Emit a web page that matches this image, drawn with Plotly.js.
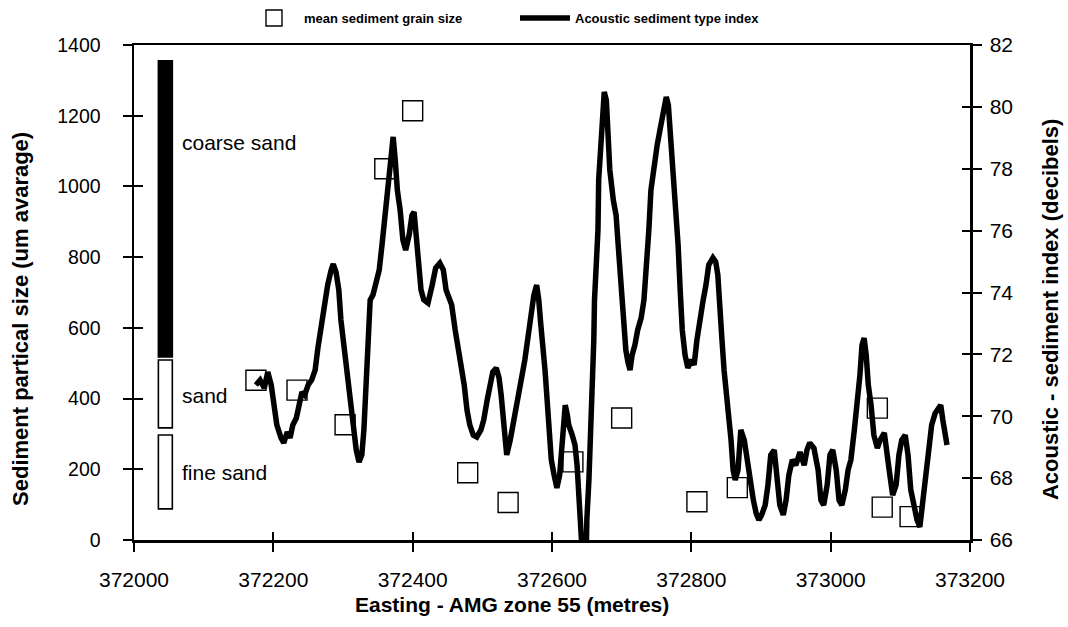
<!DOCTYPE html>
<html>
<head>
<meta charset="utf-8">
<script src="https://cdn.plot.ly/plotly-3.0.1.min.js"></script>
<style>html,body{margin:0;padding:0;background:#fff;}#chart{width:1068px;height:627px;}</style>
</head>
<body>
<div id="chart"></div>
<script>
// ---- Data ----
const xTicks = [372000, 372200, 372400, 372600, 372800, 373000, 373200];
const leftTicks = [0, 200, 400, 600, 800, 1000, 1200, 1400];
const rightTicks = [66, 68, 70, 72, 74, 76, 78, 80, 82];

// Mean sediment grain size samples (um) vs easting
const grainEasting = [372175, 372234, 372303, 372360, 372400, 372479, 372537, 372630, 372700, 372808, 372866, 373067, 373074, 373114];
const grainSize    = [452, 424, 326, 1050, 1214, 190, 106, 221, 345, 108, 148, 373, 93, 66];

// Acoustic sediment type index (dB) vs easting
const acousticEasting = [
 372175,372181,372187,372192,372197,372201,372205,372211,372215,372220,
 372224,372228,372233,372237,372241,372245,372250,372255,372260,372264,
 372268,372273,372278,372283,372286,372290,372294,372297,372301,372306,
 372310,372314,372319,372323,372327,372330,372333,372336,372339,372343,
 372347,372352,372356,372360,372363,372366,372369,372372,372375,372378,
 372382,372386,372390,372395,372399,372402,372405,372408,372412,372416,
 372422,372428,372433,372439,372444,372448,372452,372456,372461,372465,
 372469,372474,372478,372482,372487,372492,372498,372502,372507,372511,
 372515,372520,372524,372527,372530,372533,372535,372540,372544,372548,
 372553,372557,372561,372566,372570,372574,372578,372581,372584,372587,
 372590,372593,372596,372599,372603,372607,372611,372614,372617,372619,
 372622,372624,372629,372633,372636,372639,372642,372644,372649,372650,
 372653,372656,372659,372660,372661,372663,372666,372667,372670,372673,
 372675,372678,372680,372683,372688,372692,372695,372698,372700,372703,
 372706,372709,372712,372715,372719,372723,372728,372732,372736,372739,
 372742,372746,372751,372755,372759,372764,372767,372769,372772,372775,
 372778,372781,372784,372787,372791,372795,372800,372804,372808,372812,
 372817,372821,372825,372831,372835,372838,372841,372844,372847,372850,
 372854,372857,372860,372863,372867,372871,372876,372880,372884,372889,
 372893,372897,372901,372906,372910,372914,372919,372923,372927,372932,
 372936,372940,372945,372950,372956,372962,372966,372970,372976,372982,
 372986,372990,372995,372999,373003,373008,373012,373016,373021,373025,
 373029,373034,373038,373042,373045,373048,373051,373054,373058,373062,
 373067,373071,373077,373081,373085,373089,373094,373098,373102,373107,
 373111,373115,373120,373124,373128,373133,373137,373141,373145,373150,
 373154,373158,373161,373164,373167
];
const acousticIndex = [
 71.01,71.17,70.91,71.43,71.01,70.36,69.72,69.30,69.14,69.49,
 69.30,69.72,69.94,70.36,70.78,70.69,71.01,71.17,71.49,72.21,
 72.79,73.76,74.24,74.73,74.92,74.66,74.08,73.11,72.30,71.49,
 70.53,69.56,68.91,68.52,68.75,69.56,70.85,72.79,73.76,73.92,
 74.24,74.73,75.54,76.50,77.15,77.96,78.61,79.03,78.28,77.31,
 76.67,75.70,75.37,75.86,76.50,76.60,75.86,74.89,74.08,73.76,
 73.66,74.24,74.79,74.95,74.73,74.08,73.76,73.60,72.79,72.30,
 71.66,71.01,70.20,69.72,69.39,69.33,69.56,69.88,70.53,71.01,
 71.43,71.56,71.24,70.69,69.88,69.07,68.75,69.23,69.72,70.04,
 70.69,71.33,71.82,72.63,73.43,73.92,74.24,73.76,72.95,72.30,
 71.49,70.53,69.39,68.59,68.10,67.68,68.10,68.91,69.88,70.36,
 70.04,69.72,69.39,69.07,68.42,67.29,66.00,65.35,65.35,66.65,
 67.94,69.88,71.01,72.46,73.76,74.73,76.02,77.64,78.93,79.90,
 80.48,80.22,79.25,77.96,76.99,76.50,75.54,74.57,73.76,72.79,
 72.14,71.75,71.49,71.98,72.30,72.79,73.18,73.76,74.89,76.02,
 77.31,78.12,78.77,79.25,79.83,80.32,80.06,79.41,78.61,77.64,
 76.67,75.54,74.08,72.79,71.98,71.56,71.82,71.66,72.46,73.11,
 73.76,74.24,74.89,75.12,74.99,74.57,73.76,72.46,71.49,70.85,
 70.20,69.23,68.26,67.94,68.26,69.56,69.23,68.59,67.94,67.29,
 66.87,66.65,66.81,67.13,67.78,68.75,68.91,68.10,67.13,66.81,
 67.29,68.10,68.59,68.42,68.84,68.42,68.91,69.14,68.97,68.26,
 67.29,67.13,67.78,68.75,68.91,68.26,67.29,67.13,67.62,68.26,
 68.59,69.56,70.36,71.33,72.30,72.53,71.98,71.01,70.36,69.39,
 68.97,69.23,69.46,68.91,68.10,67.45,67.78,68.75,69.23,69.39,
 68.75,67.62,66.97,66.65,66.42,67.29,68.26,68.91,69.72,70.10,
 70.20,70.36,69.88,69.39,69.07
];

// Grain-size class scale bar (um)
const classNames = ['coarse sand', 'sand', 'fine sand'];
const classLow   = [518, 317, 88];
const classHigh  = [1355, 509, 297];
const classFill  = ['black', 'white', 'white'];
const classLabelY = [1123, 410, 190];
const classBarX = 372045;
const classLabelX = 372066;

// ---- Traces ----
const FONT = 'Liberation Sans, Arial, Helvetica, sans-serif';

const barTrace = {
  type: 'bar',
  x: classNames.map(() => classBarX),
  base: classLow,
  y: classHigh.map((h, i) => h - classLow[i]),
  width: classNames.map(() => 20),
  marker: {color: classFill, line: {color: 'black', width: 1.6}},
  showlegend: false,
  hoverinfo: 'skip',
  xaxis: 'x', yaxis: 'y'
};

const grainTrace = {
  type: 'scatter', mode: 'markers',
  name: 'mean sediment grain size',
  x: grainEasting, y: grainSize,
  marker: {symbol: 'square-open', size: 20, color: 'black', line: {color: 'black', width: 1.4}},
  xaxis: 'x', yaxis: 'y'
};

const acousticTrace = {
  type: 'scatter', mode: 'lines',
  name: 'Acoustic sediment type index',
  x: acousticEasting, y: acousticIndex,
  line: {color: 'black', width: 5.5},
  xaxis: 'x', yaxis: 'y2'
};

// empty helper traces so the inside-tick overlay axes get drawn
const tickHelperL = {type: 'scatter', x: [], y: [], xaxis: 'x2', yaxis: 'y3', showlegend: false, hoverinfo: 'skip'};
const tickHelperR = {type: 'scatter', x: [], y: [], xaxis: 'x2', yaxis: 'y4', showlegend: false, hoverinfo: 'skip'};

const annotations = classNames.map((n, i) => ({
  x: classLabelX, y: classLabelY[i], xref: 'x', yref: 'y',
  text: n, showarrow: false, xanchor: 'left', yanchor: 'middle',
  font: {family: FONT, size: 21, color: 'black'}
}));
annotations.push(
  {x: 0.4522, y: -0.1313, xref: 'paper', yref: 'paper', text: 'Easting - AMG zone 55 (metres)', showarrow: false,
   xanchor: 'center', yanchor: 'middle', font: {family: FONT, size: 21, color: 'black', weight: 'bold'}},
  {x: -0.1352, y: 0.4465, xref: 'paper', yref: 'paper', text: 'Sediment partical size (um avarage)', showarrow: false,
   textangle: -90, xanchor: 'center', yanchor: 'middle', font: {family: FONT, size: 22, color: 'black', weight: 'bold'}},
  {x: 1.0957, y: 0.4646, xref: 'paper', yref: 'paper', text: 'Acoustic - sediment index (decibels)', showarrow: false,
   textangle: -90, xanchor: 'center', yanchor: 'middle', font: {family: FONT, size: 22, color: 'black', weight: 'bold'}}
);

const axBase = {showgrid: false, zeroline: false, color: 'black', linecolor: 'black', tickcolor: 'black'};

const layout = {
  width: 1068, height: 627,
  margin: {l: 134, r: 98, t: 45, b: 87, pad: 0},
  paper_bgcolor: 'white', plot_bgcolor: 'white',
  font: {family: FONT, color: 'black'},
  barmode: 'overlay',
  showlegend: true,
  legend: {
    orientation: 'h', xref: 'container', yref: 'container',
    x: 244 / 1068, y: 1 - 18 / 627, xanchor: 'left', yanchor: 'middle',
    itemwidth: 50, entrywidth: 206, entrywidthmode: 'pixels',
    font: {family: FONT, size: 13, color: 'black', weight: 'bold'},
    bgcolor: 'rgba(0,0,0,0)', borderwidth: 0
  },
  xaxis: Object.assign({}, axBase, {
    range: [372000, 373200], tickmode: 'array', tickvals: xTicks, ticktext: xTicks.map(String),
    ticks: 'outside', ticklen: 9, tickwidth: 2, showline: true, linewidth: 2.5, mirror: true,
    tickfont: {family: FONT, size: 21, color: 'black'}, ticklabelstandoff: 10
  }),
  yaxis: Object.assign({}, axBase, {
    range: [0, 1400], tickmode: 'array', tickvals: leftTicks, ticktext: leftTicks.map(String),
    ticks: 'outside', ticklen: 9, tickwidth: 2, showline: true, linewidth: 2.5,
    tickfont: {family: FONT, size: 19.5, color: 'black'}, ticklabelstandoff: 18
  }),
  yaxis2: Object.assign({}, axBase, {
    overlaying: 'y', side: 'right', anchor: 'x',
    range: [66, 82], tickmode: 'array', tickvals: rightTicks, ticktext: rightTicks.map(String),
    ticks: 'outside', ticklen: 9, tickwidth: 2, showline: true, linewidth: 2.5,
    tickfont: {family: FONT, size: 21, color: 'black'}, ticklabelstandoff: 4
  }),
  xaxis2: Object.assign({}, axBase, {
    overlaying: 'x', anchor: 'y', side: 'bottom',
    range: [372000, 373200], tickmode: 'array', tickvals: xTicks,
    ticks: 'inside', ticklen: 8, tickwidth: 2, showline: false, showticklabels: false
  }),
  yaxis3: Object.assign({}, axBase, {
    overlaying: 'y', anchor: 'x', side: 'left',
    range: [0, 1400], tickmode: 'array', tickvals: leftTicks,
    ticks: 'inside', ticklen: 9, tickwidth: 2, showline: false, showticklabels: false
  }),
  yaxis4: Object.assign({}, axBase, {
    overlaying: 'y', anchor: 'x', side: 'right',
    range: [66, 82], tickmode: 'array', tickvals: rightTicks,
    ticks: 'inside', ticklen: 8, tickwidth: 2, showline: false, showticklabels: false
  }),
  annotations: annotations
};

Plotly.newPlot('chart', [barTrace, grainTrace, acousticTrace, tickHelperL, tickHelperR], layout,
  {staticPlot: true, displayModeBar: false});
</script>
</body>
</html>
